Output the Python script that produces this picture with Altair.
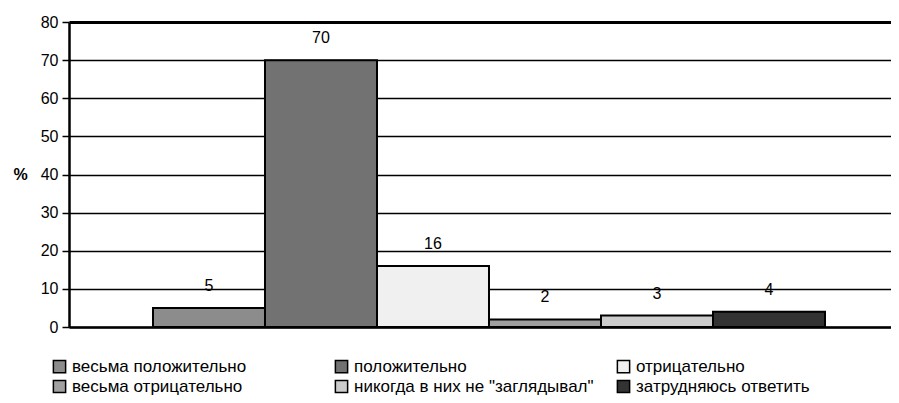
import altair as alt
import pandas as pd

categories = [
    "весьма положительно",
    "положительно",
    "отрицательно",
    "весьма отрицательно",
    "никогда в них не \"заглядывал\"",
    "затрудняюсь ответить",
]
values = [5, 70, 16, 2, 3, 4]
fills = ["#8c8c8c", "#727272", "#f0f0f0", "#a0a0a0", "#cccccc", "#333333"]
y_ticks = [0, 10, 20, 30, 40, 50, 60, 70, 80]

df = pd.DataFrame({"cat": categories, "value": values})

FONT = "Liberation Sans"

x_axis = alt.Axis(labels=False, ticks=False, title=None, domainColor="black",
                  domainWidth=2.5, grid=False)
y_axis = alt.Axis(
    values=y_ticks, labelOverlap=False,
    grid=True, gridColor="black",
    gridWidth={"condition": {"test": "datum.value === 80", "value": 3}, "value": 1.5},
    gridOpacity=1, domainColor="black", domainWidth=2.5,
    tickColor="black", tickWidth=1.5, tickSize=7,
    labelFont=FONT, labelFontSize=16, labelColor="black", labelPadding=4,
    title="%", titleAngle=0, titleFont=FONT, titleFontSize=16,
    titleFontWeight="bold", titleColor="black", titleAlign="left",
    titleBaseline="middle", titleX=-56, titleY=152.5,
)
x_scale = alt.Scale(paddingInner=0, paddingOuter=0.6696, align=0.56)
y_scale = alt.Scale(domain=[0, 80], nice=False)

bars = alt.Chart(df).mark_bar(stroke="black", strokeWidth=2, opacity=1).encode(
    x=alt.X("cat:N", sort=categories, scale=x_scale, axis=x_axis),
    y=alt.Y("value:Q", scale=y_scale, axis=y_axis),
    fill=alt.Fill(
        "cat:N",
        sort=categories,
        scale=alt.Scale(domain=categories, range=fills),
        legend=alt.Legend(
            title=None, orient="none", legendX=-18, legendY=336,
            direction="horizontal", columns=3, gridAlign="all",
            columnPadding=20, rowPadding=1, padding=0,
            symbolType="square", symbolSize=150, symbolStrokeColor="black",
            symbolStrokeWidth=1.5, symbolOpacity=1, symbolOffset=0,
            labelFont=FONT, labelFontSize=17, labelColor="black",
            labelOffset=4, labelLimit=400,
        ),
    ),
)

labels = alt.Chart(df).mark_text(
    dy=-22, baseline="middle", align="center", font=FONT, fontSize=16, color="black"
).encode(
    x=alt.X("cat:N", sort=categories, scale=x_scale, axis=x_axis),
    y=alt.Y("value:Q", scale=y_scale, axis=y_axis),
    text=alt.Text("value:Q"),
)

chart = (
    alt.layer(bars, labels)
    .properties(
        width=822, height=305,
        autosize=alt.AutoSizeParams(type="none"),
        padding={"left": 61, "top": 14, "right": 0, "bottom": 68},
    )
    .configure_view(strokeWidth=0)
    .configure(background="white")
)

chart.save("out.html", embed_options={"renderer": "svg", "actions": False})
